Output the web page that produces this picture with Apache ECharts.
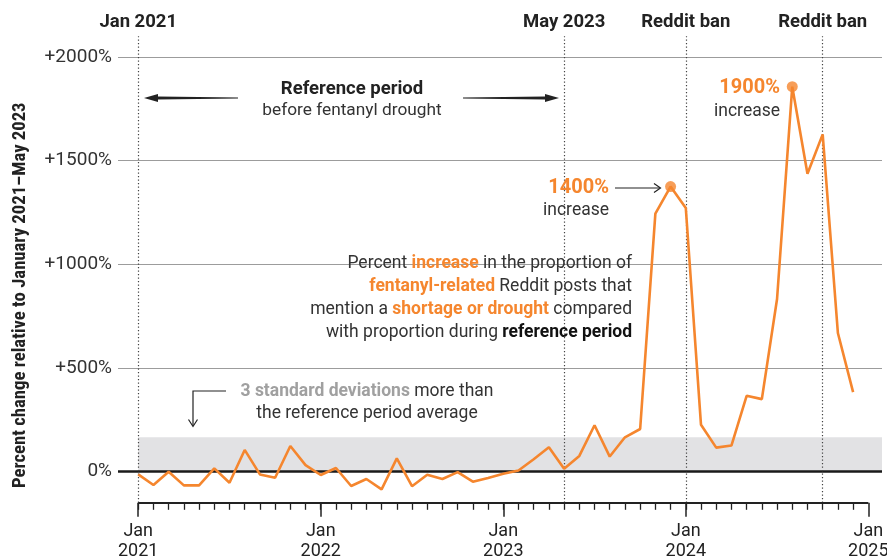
<!DOCTYPE html>
<html><head><meta charset="utf-8">
<script src="https://cdn.jsdelivr.net/npm/echarts@6/dist/echarts.min.js"></script>
<style>html,body{margin:0;padding:0;background:#fff}#c{width:887px;height:558px}</style>
</head><body><div id="c"></div>
<script>
// ---- data ----
const months = [
 '2021-01','2021-02','2021-03','2021-04','2021-05','2021-06','2021-07','2021-08','2021-09','2021-10','2021-11','2021-12',
 '2022-01','2022-02','2022-03','2022-04','2022-05','2022-06','2022-07','2022-08','2022-09','2022-10','2022-11','2022-12',
 '2023-01','2023-02','2023-03','2023-04','2023-05','2023-06','2023-07','2023-08','2023-09','2023-10','2023-11','2023-12',
 '2024-01','2024-02','2024-03','2024-04','2024-05','2024-06','2024-07','2024-08','2024-09','2024-10','2024-11','2024-12'
];
const values = [
 -13,-64,0,-66,-66,16,-53,105,-13,-29,124,32,
 -16,18,-69,-35,-85,64,-70,-15,-35,-2,-48,-30,
 -10,6,60,118,14,76,224,73,166,206,1245,1375,
 1272,226,116,126,366,350,833,1857,1437,1627,669,384
];
const yTicks = [0, 500, 1000, 1500, 2000];
const xMajorTicks = [0, 12, 24, 36, 48];
const xMajorLabels = ['Jan\n2021', 'Jan\n2022', 'Jan\n2023', 'Jan\n2024', 'Jan\n2025'];
const eventMonths = [0, 28, 36, 45];
const eventLabels = ['Jan 2021', 'May 2023', 'Reddit ban', 'Reddit ban'];
const bandTop = 166;           // 3 standard deviations above reference average
const peakMonths = [35, 43];
const peakLabels = ['1400%', '1900%'];
const yTitle = 'Percent change relative to January 2021\u2013May 2023';

// ---- layout / style ----
const FONT = 'Roboto,sans-serif';
const FONT_C = '"Roboto Condensed",Roboto,sans-serif';
const ORANGE = '#F5862E';
const INK = '#222';
const X_MIN = -1.33, X_MAX = 48.9, Y_MIN = -150, Y_MAX = 2100;
const monthIdx = months.map((m, i) => i);

const chart = echarts.init(document.getElementById('c'), null, {renderer: 'canvas'});

const gridLines = yTicks.filter(v => v !== 0).map(v => ({
  yAxis: v, lineStyle: {color: '#9c9c9c', width: 1, type: 'solid'}, label: {show: false}
}));
const zeroLine = {yAxis: 0, lineStyle: {color: '#1a1a1a', width: 2.5, type: 'solid'}, label: {show: false}};
const eventLines = eventMonths.map((m, i) => ({
  xAxis: m, name: eventLabels[i],
  lineStyle: {color: '#444', width: 1.2, type: [1.3, 2.2]},
  label: {show: true, position: 'end', distance: 4, formatter: '{b}',
          fontFamily: FONT, fontWeight: 'bold', fontSize: 18.5, color: INK}
}));
const axisLineSeg = [{coord: [0, Y_MIN], lineStyle: {color: INK, width: 2, type: 'solid'}, label: {show: false}},
                     {coord: [48, Y_MIN]}];

const option = {
  animation: false,
  backgroundColor: '#fff',
  grid: {left: 118, right: 5, top: 36.3, bottom: 55.2, containLabel: false, outerBoundsMode: 'none'},
  xAxis: [
    {type: 'value', min: X_MIN, max: X_MAX, position: 'bottom',
     axisLine: {show: false, onZero: false}, splitLine: {show: false},
     axisLabel: {show: false},
     axisTick: {show: true, customValues: monthIdx, length: 7, lineStyle: {color: INK, width: 1.3}}},
    {type: 'value', min: X_MIN, max: X_MAX, position: 'bottom',
     axisLine: {show: false, onZero: false}, splitLine: {show: false},
     axisTick: {show: true, customValues: xMajorTicks, length: 14, lineStyle: {color: INK, width: 1.5}},
     axisLabel: {show: true, customValues: xMajorTicks, margin: 19,
       formatter: v => xMajorLabels[xMajorTicks.indexOf(Math.round(v))] || '',
       fontFamily: FONT, fontSize: 18, lineHeight: 20, color: INK}}
  ],
  yAxis: {
    type: 'value', min: Y_MIN, max: Y_MAX,
    axisLine: {show: false}, axisTick: {show: false}, splitLine: {show: false},
    axisLabel: {customValues: yTicks, margin: 6, fontFamily: FONT, fontSize: 19, color: '#333',
      formatter: v => v === 0 ? '0%' : '+' + v + '%'}
  },
  series: [
    {type: 'line', name: 'band', data: [], z: 0, silent: true,
     markArea: {silent: true, itemStyle: {color: '#e2e2e4'},
       data: [[{coord: [0, 0]}, {coord: [X_MAX, bandTop]}]]}},
    {type: 'line', name: 'guides', data: [], z: 1, silent: true,
     markLine: {silent: true, symbol: 'none', animation: false,
       data: [...gridLines, zeroLine, ...eventLines, axisLineSeg]}},
    {type: 'line', name: 'share', z: 5, xAxisIndex: 0,
     data: values.map((v, i) => [i, v]),
     showSymbol: false, symbol: 'none',
     lineStyle: {color: ORANGE, width: 2.6}},
    {type: 'scatter', name: 'peaks', z: 6,
     data: peakMonths.map(m => [m, values[m]]),
     symbolSize: 11, itemStyle: {color: ORANGE}}
  ],
  graphic: [
    // y-axis title (anchored at its start, reading bottom to top)
    {type: 'text', z: 10, x: 20, y: 488, rotation: Math.PI / 2,
     style: {text: yTitle, align: 'left', verticalAlign: 'middle', font: 'bold 18.7px ' + FONT_C, fill: INK}},
    // reference period arrows
    {type: 'polygon', z: 10, shape: {points: [[238,97.6],[158,96.4],[158,94],[144,98],[158,102],[158,99.6],[238,98.4]]},
     style: {fill: INK}},
    {type: 'polygon', z: 10, shape: {points: [[463,97.6],[545,96.4],[545,94],[559,98],[545,102],[545,99.6],[463,98.4]]},
     style: {fill: INK}},
    {type: 'text', z: 10, x: 352, y: 89, style: {text: 'Reference period', align: 'center', verticalAlign: 'middle',
      font: 'bold 18.5px ' + FONT, fill: INK}},
    {type: 'text', z: 10, x: 352, y: 111, style: {text: 'before fentanyl drought', align: 'center', verticalAlign: 'middle',
      font: '17.3px ' + FONT, fill: '#333'}},
    // masks behind annotations
    {type: 'rect', z: 2, shape: {x: 330, y: 243, width: 320, height: 102}, style: {fill: '#fff'}},
    {type: 'rect', z: 2, shape: {x: 540, y: 171, width: 72, height: 53}, style: {fill: '#fff'}},
    // 1400% annotation
    {type: 'text', z: 10, x: 609, y: 188, style: {text: peakLabels[0], align: 'right', verticalAlign: 'middle',
      font: 'bold 20px ' + FONT, fill: ORANGE}},
    {type: 'text', z: 10, x: 609, y: 211, style: {text: 'increase', align: 'right', verticalAlign: 'middle',
      font: '17.5px ' + FONT, fill: '#333'}},
    {type: 'polyline', z: 10, shape: {points: [[615,188],[660,188]]}, style: {stroke: INK, lineWidth: 1.2, fill: null}},
    {type: 'polyline', z: 10, shape: {points: [[654,183.5],[660.5,188],[654,192.5]]}, style: {stroke: INK, lineWidth: 1.2, fill: null}},
    // 1900% annotation
    {type: 'text', z: 10, x: 780, y: 88, style: {text: peakLabels[1], align: 'right', verticalAlign: 'middle',
      font: 'bold 20px ' + FONT, fill: ORANGE}},
    {type: 'text', z: 10, x: 780, y: 112, style: {text: 'increase', align: 'right', verticalAlign: 'middle',
      font: '17.5px ' + FONT, fill: '#333'}},
    // explanatory text block
    {type: 'text', z: 10, x: 632, y: 252, style: {
      text: 'Percent {o|increase} in the proportion of\n{o|fentanyl-related} Reddit posts that\nmention a {o|shortage or drought} compared\nwith proportion during {b|reference period}',
      align: 'right', verticalAlign: 'top', font: '17.5px ' + FONT, fill: '#333', lineHeight: 23,
      rich: {o: {font: 'bold 17.5px ' + FONT, fill: ORANGE, lineHeight: 23},
             b: {font: 'bold 17.5px ' + FONT, fill: '#111', lineHeight: 23}}}},
    // 3 standard deviations annotation
    {type: 'text', z: 10, x: 367, y: 392, style: {
      text: '{g|3 standard deviations} more than', align: 'center', verticalAlign: 'middle',
      font: '17.5px ' + FONT, fill: '#333',
      rich: {g: {font: 'bold 17.5px ' + FONT, fill: '#a0a0a0'}}}},
    {type: 'text', z: 10, x: 367, y: 414, style: {text: 'the reference period average', align: 'center', verticalAlign: 'middle',
      font: '17.5px ' + FONT, fill: '#333'}},
    {type: 'polyline', z: 10, shape: {points: [[226,391],[193,391],[193,426]]}, style: {stroke: INK, lineWidth: 1.2, fill: null}},
    {type: 'polyline', z: 10, shape: {points: [[188.5,419.5],[193,426.5],[197.5,419.5]]}, style: {stroke: INK, lineWidth: 1.2, fill: null}}
  ]
};
chart.setOption(option);
</script></body></html>
